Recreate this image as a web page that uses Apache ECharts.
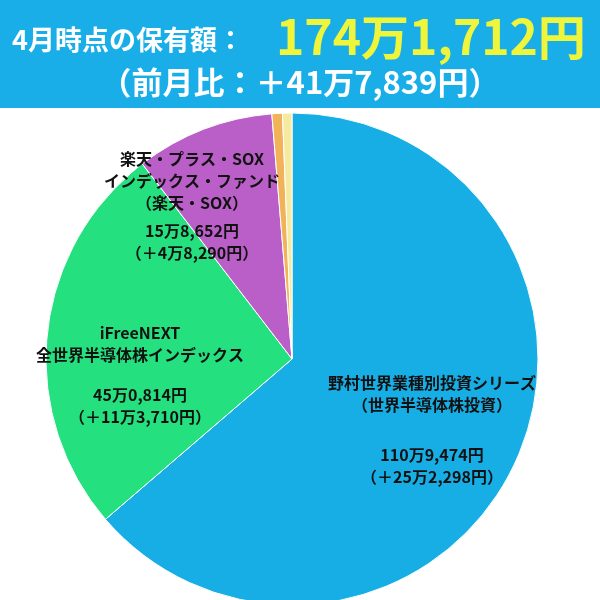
<!DOCTYPE html>
<html>
<head>
<meta charset="UTF-8">
<script src="https://cdn.jsdelivr.net/npm/echarts@6/dist/echarts.min.js"></script>
<style>html,body{margin:0;padding:0;background:#fff}#c{width:600px;height:600px}</style>
</head>
<body>
<div id="c"></div>
<script>
var names = ['野村世界業種別投資シリーズ\n（世界半導体株投資）', 'iFreeNEXT\n全世界半導体株インデックス', '楽天・プラス・SOX\nインデックス・ファンド\n（楽天・SOX）', 'その他A', 'その他B'];
var values = [1109474, 450814, 158652, 12000, 10772];
var amountText = ['110万9,474円', '45万0,814円', '15万8,652円'];
var diffText = ['（＋25万2,298円）', '（＋11万3,710円）', '（＋4万8,290円）'];
var colors = ['#17aee6', '#25e07f', '#bb5fc8', '#f2b25a', '#f5eaa0'];
var title1 = '4月時点の保有額：';
var title2 = '174万1,712円';
var title3 = '（前月比：＋41万7,839円）';

var chart = echarts.init(document.getElementById('c'));
var font = '"Noto Sans CJK JP", sans-serif';
function label(i, x, y, gap) {
  return [
    { type: 'text', x: x, y: y, z: 100, style: { text: names[i], textAlign: 'center', fill: '#111', font: 'bold 16px ' + font, lineHeight: 22 } },
    { type: 'text', x: x, y: y + gap, z: 100, style: { text: amountText[i] + '\n' + diffText[i], textAlign: 'center', fill: '#111', font: 'bold 16px ' + font, lineHeight: 22 } }
  ];
}
var g = [
  { type: 'rect', z: 99, shape: { x: 0, y: 0, width: 600, height: 108 }, style: { fill: '#1aaee8' } },
  { type: 'text', x: 12, y: 40, z: 100, style: { text: title1, fill: '#fff', font: 'bold 27px ' + font, textVerticalAlign: 'middle' } },
  { type: 'text', x: 276, y: 37, z: 100, style: { text: title2, fill: '#eef53a', font: 'bold 48px ' + font, textVerticalAlign: 'middle' } },
  { type: 'text', x: 300, y: 82, z: 100, style: { text: title3, fill: '#fff', font: 'bold 31px ' + font, textAlign: 'center', textVerticalAlign: 'middle' } }
];
g = g.concat(label(2, 192, 148, 72), label(1, 140, 322, 62), label(0, 432, 372, 72));

chart.setOption({
  animation: false,
  series: [{
    type: 'pie',
    center: [292, 359],
    radius: [0, 246],
    startAngle: 90,
    clockwise: true,
    label: { show: false },
    labelLine: { show: false },
    itemStyle: { borderColor: '#fff', borderWidth: 1 },
    data: values.map(function (v, i) { return { value: v, name: names[i], itemStyle: { color: colors[i] } }; })
  }],
  graphic: g
});
</script>
</body>
</html>
